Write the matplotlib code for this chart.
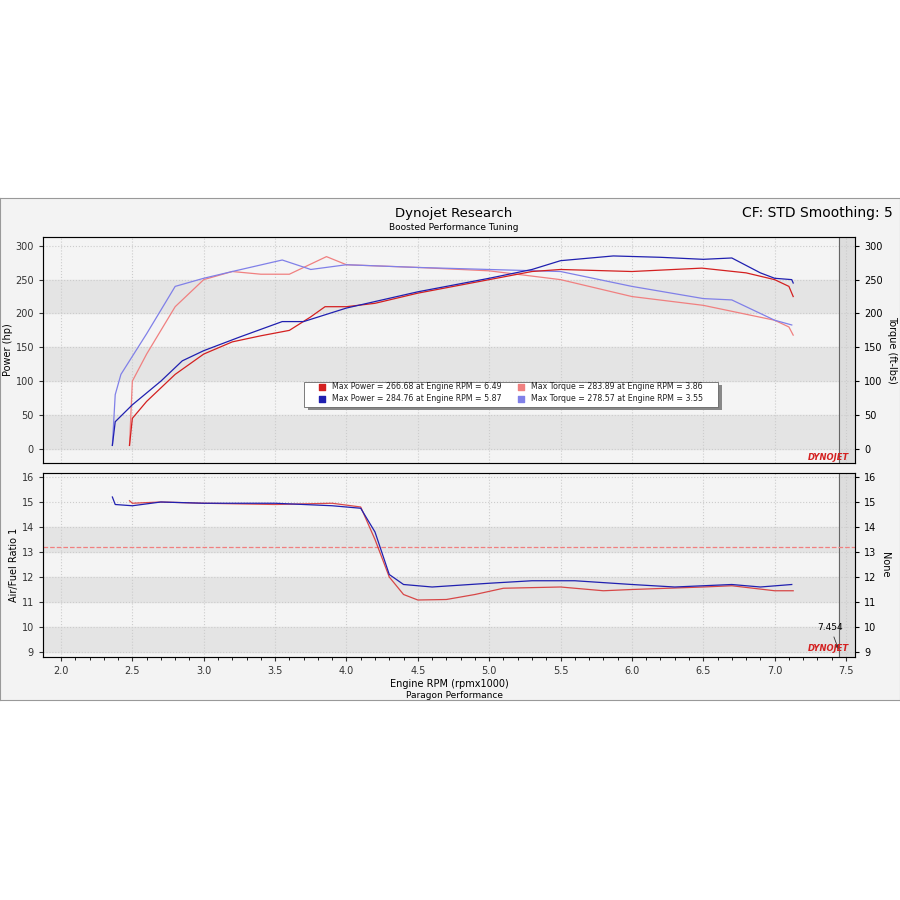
import numpy as np
import matplotlib.pyplot as plt
from matplotlib.patches import Rectangle

# --- data ---
rpm_pw_red = [2.48, 2.5, 2.6, 2.8, 3.0, 3.2, 3.4, 3.6, 3.75, 3.85, 4.0, 4.2, 4.5, 5.0, 5.3, 5.5, 6.0, 6.49, 6.8, 7.0, 7.1, 7.13]
pw_red = [5, 45, 70, 110, 140, 158, 167, 175, 195, 210, 210, 215, 230, 250, 262, 265, 262, 267, 260, 250, 240, 225]
rpm_pw_blue = [2.36, 2.38, 2.5, 2.7, 2.85, 3.0, 3.25, 3.55, 3.7, 4.0, 4.5, 5.0, 5.3, 5.5, 5.87, 6.2, 6.5, 6.7, 6.9, 7.0, 7.12, 7.13]
pw_blue = [5, 40, 65, 100, 130, 145, 165, 188, 188, 208, 232, 252, 265, 278, 285, 283, 280, 282, 260, 252, 250, 245]
rpm_tq_red = [2.48, 2.5, 2.6, 2.8, 3.0, 3.2, 3.4, 3.6, 3.86, 4.0, 4.5, 5.0, 5.5, 6.0, 6.5, 7.0, 7.1, 7.13]
tq_red = [5, 100, 140, 210, 250, 262, 258, 258, 284, 272, 268, 263, 250, 225, 212, 190, 180, 168]
rpm_tq_blue = [2.36, 2.38, 2.42, 2.6, 2.8, 3.0, 3.2, 3.55, 3.75, 4.0, 4.5, 5.0, 5.5, 6.0, 6.5, 6.7, 7.0, 7.12]
tq_blue = [5, 80, 110, 170, 240, 252, 262, 279, 265, 272, 268, 265, 262, 240, 222, 220, 190, 183]

rpm_afr_red = [2.48, 2.5, 2.7, 3.0, 3.5, 3.9, 4.1, 4.2, 4.3, 4.4, 4.5, 4.7, 4.9, 5.1, 5.5, 5.8, 6.0, 6.5, 6.7, 7.0, 7.13]
afr_red = [15.05, 14.95, 15.0, 14.95, 14.9, 14.95, 14.8, 13.5, 12.0, 11.3, 11.08, 11.1, 11.3, 11.55, 11.6, 11.45, 11.5, 11.6, 11.65, 11.45, 11.45]
rpm_afr_blue = [2.36, 2.38, 2.5, 2.7, 3.0, 3.5, 3.9, 4.1, 4.2, 4.3, 4.4, 4.6, 5.0, 5.3, 5.6, 6.0, 6.3, 6.7, 6.9, 7.12]
afr_blue = [15.2, 14.9, 14.85, 15.0, 14.95, 14.95, 14.85, 14.75, 13.8, 12.1, 11.7, 11.6, 11.75, 11.85, 11.85, 11.7, 11.6, 11.7, 11.6, 11.7]

afr_target = 13.2
cursor_rpm = 7.454

RED, BLUE = "#d42020", "#2020b0"
LRED, LBLUE = "#f08080", "#8080e8"

fig = plt.figure(figsize=(9, 9), dpi=100)
fig.patch.set_facecolor("white")
# chart panel background (behind the axes)
bg = fig.add_axes([0, 1 - 700 / 900, 1, 502 / 900], zorder=-10)
bg.set_facecolor("#f3f3f3")
bg.set_xticks([])
bg.set_yticks([])
for s in bg.spines.values():
    s.set_color("#999999")

def style(ax, ylo, yhi, band):
    ax.set_facecolor("#f4f4f4")
    for b in np.arange(ylo, yhi, 2 * band):
        ax.axhspan(b, b + band, color="#e4e4e4", zorder=0)
    ax.axvspan(cursor_rpm, 7.6, color="#dddddd", zorder=0.5)
    ax.set_xlim(1.874, 7.563)
    ax.set_xticks(np.arange(2.0, 7.6, 0.5))
    ax.set_xticks(np.arange(2.0, 7.6, 0.1), minor=True)
    ax.grid(True, color="#cccccc", ls=":", lw=0.8)
    ax.axvline(cursor_rpm, color="#666666", lw=0.8)
    for s in ax.spines.values():
        s.set_color("#777777")
    ax.tick_params(labelsize=7, length=3, colors="#333333")
    ax.tick_params(which="minor", length=2)

# --- top: power & torque ---
ax1 = fig.add_axes([43 / 900, 1 - 463 / 900, 812 / 900, 226 / 900])
style(ax1, 0, 300, 50)
ax1.set_ylim(-21, 313)
ax1.plot(rpm_tq_red, tq_red, color=LRED, lw=0.9)
ax1.plot(rpm_tq_blue, tq_blue, color=LBLUE, lw=0.9)
ax1.plot(rpm_pw_red, pw_red, color=RED, lw=0.9)
ax1.plot(rpm_pw_blue, pw_blue, color=BLUE, lw=0.9)
ax1.set_yticks(range(0, 301, 50))
ax1.set_xticklabels([])
ax1.tick_params(axis="x", which="both", length=0)
ax1.set_ylabel("Power (hp)", fontsize=7, labelpad=2)
ax1r = ax1.twinx()
ax1r.set_ylim(-21, 313)
ax1r.set_yticks(range(0, 301, 50))
ax1r.tick_params(labelsize=7, length=3)
ax1r.set_ylabel("Torque (ft-lbs)", fontsize=7, rotation=270, labelpad=10)
ax1.text(7.52, -17, "DYNOJET", color=RED, fontsize=6, fontstyle="italic", fontweight="bold", ha="right")

leg = [("Max Power = 266.68 at Engine RPM = 6.49", RED, 3.83, 92),
       ("Max Power = 284.76 at Engine RPM = 5.87", BLUE, 3.83, 74),
       ("Max Torque = 283.89 at Engine RPM = 3.86", LRED, 5.22, 92),
       ("Max Torque = 278.57 at Engine RPM = 3.55", LBLUE, 5.22, 74)]
ax1.add_patch(Rectangle((3.73, 58), 2.9, 37, facecolor="#888888", zorder=4))
ax1.add_patch(Rectangle((3.70, 62), 2.9, 37, facecolor="white", edgecolor="#666666", lw=0.6, zorder=5))
for (txt, c, x, y) in leg:
    ax1.scatter([x], [y], marker="s", s=14, color=c, zorder=6)
    ax1.text(x + 0.07, y, txt, color="#222222", fontsize=5.7, va="center", zorder=6)

# --- bottom: AFR ---
ax2 = fig.add_axes([43 / 900, 1 - 657 / 900, 812 / 900, 184 / 900])
style(ax2, 9, 15, 1)
ax2.set_ylim(8.8, 16.16)
ax2.axhline(afr_target, color=LRED, ls="--", lw=0.9)
ax2.plot(rpm_afr_red, afr_red, color=RED, lw=0.9, alpha=0.8)
ax2.plot(rpm_afr_blue, afr_blue, color=BLUE, lw=0.9)
ax2.set_yticks(range(9, 17))
ax2.set_ylabel("Air/Fuel Ratio 1", fontsize=7, labelpad=2)
ax2.set_xlabel("Engine RPM (rpmx1000)", fontsize=7, labelpad=2)
ax2r = ax2.twinx()
ax2r.set_ylim(8.8, 16.16)
ax2r.set_yticks(range(9, 17))
ax2r.tick_params(labelsize=7, length=3)
ax2r.set_ylabel("None", fontsize=7, rotation=270, labelpad=10)
ax2.annotate(f"{cursor_rpm:.3f}", xy=(cursor_rpm, 9.0), xytext=(7.3, 9.9),
             fontsize=6.5, arrowprops=dict(arrowstyle="-|>", color="#333333", lw=0.6))
ax2.text(7.52, 9.05, "DYNOJET", color=RED, fontsize=6, fontstyle="italic", fontweight="bold", ha="right")

fig.text(454 / 900, 1 - 213 / 900, "Dynojet Research", ha="center", va="center", fontsize=9.5)
fig.text(454 / 900, 1 - 227 / 900, "Boosted Performance Tuning", ha="center", va="center", fontsize=6.5)
fig.text(893 / 900, 1 - 213 / 900, "CF: STD Smoothing: 5", ha="right", va="center", fontsize=10)
fig.text(454 / 900, 1 - 695 / 900, "Paragon Performance", ha="center", va="center", fontsize=6.5)

fig.savefig("out.png", dpi=100)
